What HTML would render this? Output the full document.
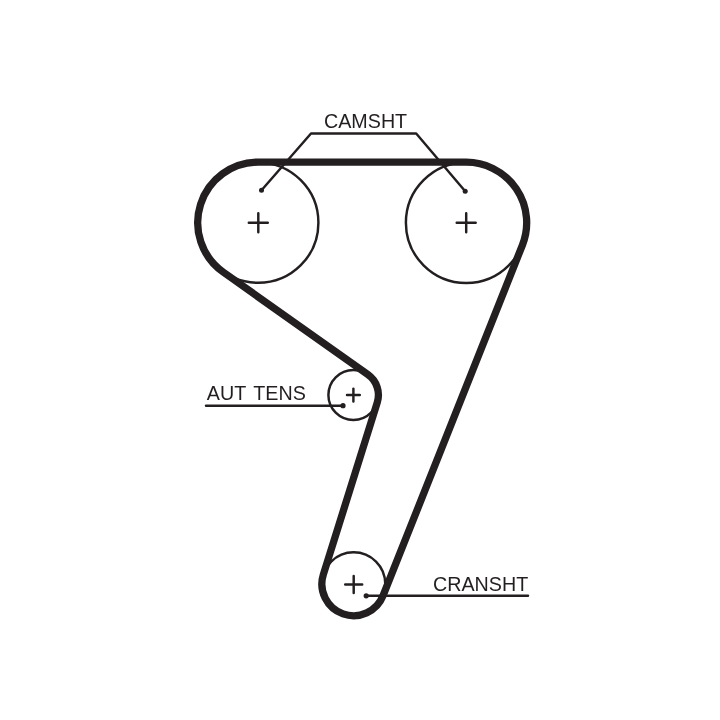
<!DOCTYPE html>
<html><head><meta charset="utf-8"><style>html,body{margin:0;padding:0;background:#fff;width:720px;height:720px;overflow:hidden}svg{display:block;will-change:transform}</style></head>
<body><svg width="720" height="720" viewBox="0 0 720 720">
<rect width="720" height="720" fill="#fff"/>
<g fill="none" stroke="#231f20" stroke-width="2.45" stroke-linejoin="round">
<circle cx="258.3" cy="222.7" r="60.1"/>
<circle cx="466.2" cy="222.7" r="60.3"/>
<circle cx="353.4" cy="395.0" r="25.0"/>
<circle cx="353.6" cy="584.0" r="31.7"/>
<polyline points="261.5,190.3 311.0,133.5 416.2,133.5 465.2,191.2"/>
<polyline points="206.0,405.7 343.0,405.7" stroke-linecap="round"/>
<polyline points="366.2,595.8 528.0,595.8" stroke-linecap="round"/>
</g>
<path d="M258.33,162.10 L466.23,162.20 A60.50,60.50 0 0 1 522.42,245.04 L383.06,595.71 A31.70,31.70 0 0 1 323.35,574.52 L377.26,402.47 A25.00,25.00 0 0 0 367.85,374.60 L223.26,272.14 A60.60,60.60 0 0 1 258.33,162.10 Z" fill="none" stroke="#231f20" stroke-width="7.3" stroke-linejoin="round"/>
<path d="M248.80,222.70H267.80M258.30,213.20V232.20" stroke="#231f20" stroke-width="2.45" stroke-linecap="round" fill="none"/>
<path d="M456.70,222.70H475.70M466.20,213.20V232.20" stroke="#231f20" stroke-width="2.45" stroke-linecap="round" fill="none"/>
<path d="M347.00,395.00H359.80M353.40,388.60V401.40" stroke="#231f20" stroke-width="2.45" stroke-linecap="round" fill="none"/>
<path d="M345.20,584.50H362.20M353.70,576.00V593.00" stroke="#231f20" stroke-width="2.45" stroke-linecap="round" fill="none"/>
<g fill="#231f20">
<circle cx="261.5" cy="190.3" r="2.5"/>
<circle cx="465.2" cy="191.2" r="2.5"/>
<circle cx="343.0" cy="405.7" r="2.6"/>
<circle cx="366.2" cy="595.8" r="2.6"/>
</g>
<g fill="#231f20" style="font-family:'Liberation Sans',sans-serif;font-size:19.7px">
<text x="324.0" y="127.6">CAMSHT</text>
<text x="206.8" y="400.35">AUT</text>
<text x="253.3" y="400.35">TENS</text>
<text x="433.0" y="590.55">CRANSHT</text>
</g>
</svg></body></html>
